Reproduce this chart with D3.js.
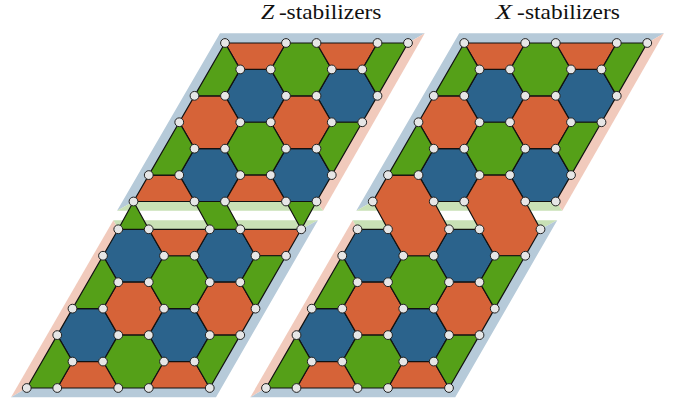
<!DOCTYPE html>
<html>
<head>
<meta charset="utf-8">
<script src="https://cdnjs.cloudflare.com/ajax/libs/d3/7.8.5/d3.min.js"></script>
<style>
  html, body { margin: 0; padding: 0; background: #fff; }
  svg { display: block; }
</style>
</head>
<body>
<div id="chart"></div>
<script>
// Lattice coordinates: [i, j], i = half a hexagon side across, j = row down.
// Hexagons are given by their centre, cut cells by their corners.
const blueHexes = [[2, 2], [8, 2], [-1, 5], [5, 5], [-6, 8], [0, 8], [-9, 11], [-3, 11]];
const orangeHexes = [[-1, 3], [5, 3], [-6, 10], [0, 10]];
const greenHexes = [[5, 1], [2, 4], [-3, 9], [-6, 12]];

const orangeCuts = [
    [[0, 0], [4, 0], [3, 1], [1, 1]],
    [[6, 0], [10, 0], [9, 1], [7, 1]],
    [[-10, 12], [-8, 12], [-7, 13], [-11, 13]],
    [[-4, 12], [-2, 12], [-1, 13], [-5, 13]]
];
const greenCuts = [
    [[0, 0], [1, 1], [0, 2], [-2, 2]],
    [[10, 0], [12, 0], [10, 2], [9, 1]],
    [[-3, 3], [-2, 4], [-3, 5], [-5, 5]],
    [[7, 3], [9, 3], [7, 5], [6, 4]],
    [[-8, 8], [-7, 9], [-8, 10], [-10, 10]],
    [[2, 8], [4, 8], [2, 10], [1, 9]],
    [[-11, 11], [-10, 12], [-11, 13], [-13, 13]],
    [[-1, 11], [1, 11], [-1, 13], [-2, 12]]
];

// cells at the seam, these differ between the two panels
const zOrangeSeam = [
    [[-5, 5], [-3, 5], [-2, 6], [-6, 6]],
    [[1, 5], [3, 5], [4, 6], [0, 6]],
    [[-5, 7], [-1, 7], [-2, 8], [-4, 8]],
    [[1, 7], [5, 7], [4, 8], [2, 8]]
];
const zGreenSeam = [
    [[-6, 6], [-5, 7], [-7, 7]],
    [[-2, 6], [0, 6], [1, 7], [-1, 7]],
    [[4, 6], [6, 6], [5, 7]]
];
const xOrangeSeam = [
    [[-5, 5], [-3, 5], [-2, 6], [-1, 7], [-2, 8], [-4, 8], [-5, 7], [-6, 6]],
    [[1, 5], [3, 5], [4, 6], [5, 7], [4, 8], [2, 8], [1, 7], [0, 6]]
];

// pale boundary bands
const topBands = {
    blue: [[-0.33, -0.37], [13.1, -0.37], [12, 0], [0, 0], [-6, 6], [-7.08, 6.33]],
    pink: [[13.1, -0.37], [6.43, 6.33], [6, 6], [12, 0]],
    green: [[-7.08, 6.33], [6.43, 6.33], [6, 6], [-6, 6]]
};
const bottomBands = {
    green: [[-7.32, 6.67], [6.1, 6.67], [5, 7], [-7, 7]],
    pink: [[-7.32, 6.67], [-7, 7], [-13, 13], [-14.03, 13.35]],
    blue: [[-14.03, 13.35], [-13, 13], [-1, 13], [5, 7], [6.1, 6.67], [-0.59, 13.35]]
};

const colors = { orange: "#d66338", green: "#55a018", blue: "#2b638c" };
const paleColors = { blue: "#b6cad9", pink: "#f1cabc", green: "#c9e1b6" };

const width = 686, height = 405;
const svg = d3.select("#chart")
    .append("svg")
    .attr("width", width)
    .attr("height", height);

// the two patches sit slightly further apart than one row
const x = d3.scaleLinear().domain([0, 12]).range([225, 408]);
const y = d3.scaleLinear().domain([0, 6, 7, 13]).range([43, 201.5, 229.3, 388]);

const line = d3.line().x(d => x(d[0])).y(d => y(d[1])).curve(d3.curveLinearClosed);

function hexCorners(c) {
    const [i, j] = c;
    return [[i - 1, j - 1], [i + 1, j - 1], [i + 2, j], [i + 1, j + 1], [i - 1, j + 1], [i - 2, j]];
}

function drawPanel(dx, seamOrange, seamGreen) {
    const g = svg.append("g").attr("transform", `translate(${dx},0)`);

    [topBands, bottomBands].forEach(bands => {
        Object.keys(bands).forEach(k => {
            g.append("path")
                .attr("d", line(bands[k]))
                .style("fill", paleColors[k]);
        });
    });

    const cells = [
        ...blueHexes.map(c => ({ color: "blue", corners: hexCorners(c) })),
        ...orangeHexes.map(c => ({ color: "orange", corners: hexCorners(c) })),
        ...greenHexes.map(c => ({ color: "green", corners: hexCorners(c) })),
        ...orangeCuts.concat(seamOrange).map(c => ({ color: "orange", corners: c })),
        ...greenCuts.concat(seamGreen).map(c => ({ color: "green", corners: c }))
    ];

    g.selectAll(".cell")
        .data(cells)
        .enter()
        .append("path")
        .attr("class", "cell")
        .attr("d", d => line(d.corners))
        .style("fill", d => colors[d.color])
        .style("stroke", "#111")
        .style("stroke-width", 1.2)
        .style("stroke-linejoin", "round");

    // every corner of a cell carries one qubit
    const qubits = Array.from(new Set(cells.flatMap(d => d.corners.map(p => p.join(",")))))
        .map(s => s.split(",").map(Number));

    g.selectAll(".qubit")
        .data(qubits)
        .enter()
        .append("circle")
        .attr("class", "qubit")
        .attr("cx", d => x(d[0]))
        .attr("cy", d => y(d[1]))
        .attr("r", 4.4)
        .style("fill", "#e6e6e6")
        .style("stroke", "#222")
        .style("stroke-width", 1);
}

drawPanel(0, zOrangeSeam, zGreenSeam);
drawPanel(239.25, xOrangeSeam, []);

// one piece of a title, wider than the font is by itself
function titlePiece(str, left, stretch, italic) {
    svg.append("text")
        .attr("transform", `translate(${left},18.5) scale(${stretch},1)`)
        .style("font-family", "'Liberation Serif', serif")
        .style("font-size", "20.8px")
        .style("font-style", italic ? "italic" : "normal")
        .style("fill", "#111")
        .text(str);
}

titlePiece("Z", 261, 1.15, true);
titlePiece("-", 279, 1.12, false);
titlePiece("stabilizers", 286.6, 1.125, false);

titlePiece("X", 495.5, 1.3, true);
titlePiece("-", 517, 1.12, false);
titlePiece("stabilizers", 525, 1.125, false);
</script>
</body>
</html>
